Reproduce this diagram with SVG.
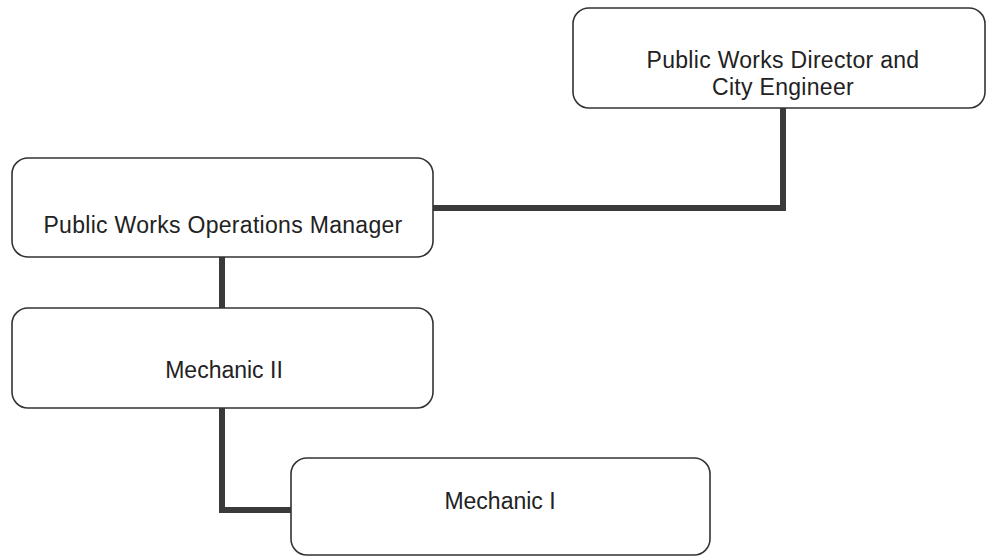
<svg xmlns="http://www.w3.org/2000/svg" width="987" height="557" viewBox="0 0 987 557">
<style>
.box{fill:#fff;stroke:#333;stroke-width:1.6}
.lbl{font-family:"Liberation Sans",Arial,sans-serif;font-size:23px;fill:#222;text-anchor:middle}
.wide{letter-spacing:0.3px}
.conn{fill:none;stroke:#3a3a3a;stroke-width:6;stroke-linejoin:miter}
</style>
<rect width="987" height="557" fill="#fff"/>
<g id="connectors">
<path class="conn" d="M783,108 V208 H433"/>
<path class="conn" d="M222,257 V308"/>
<path class="conn" d="M222,408 V510 H291"/>
</g>
<g id="director">
<rect class="box" x="573" y="8" width="412" height="100" rx="16"/>
<text class="lbl wide" x="783" y="68">Public Works Director and</text>
<text class="lbl wide" x="783" y="95">City Engineer</text>
</g>
<g id="opsmanager">
<rect class="box" x="12" y="158" width="421" height="99" rx="16"/>
<text class="lbl wide" x="223" y="233">Public Works Operations Manager</text>
</g>
<g id="mechanic2">
<rect class="box" x="12" y="308" width="421" height="100" rx="16"/>
<text class="lbl" x="224" y="378">Mechanic II</text>
</g>
<g id="mechanic1">
<rect class="box" x="291" y="458" width="419" height="97" rx="16"/>
<text class="lbl" x="500" y="509">Mechanic I</text>
</g>
</svg>
